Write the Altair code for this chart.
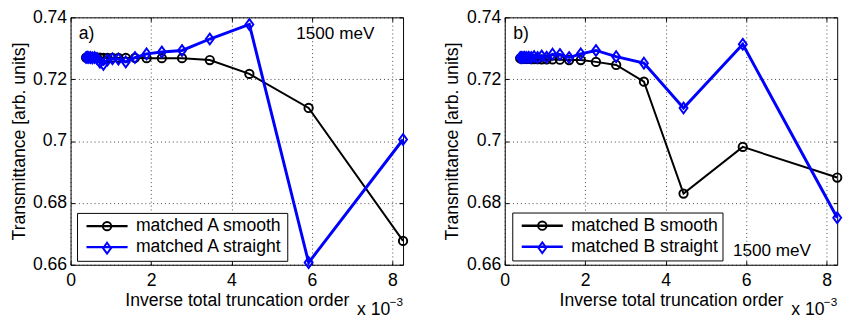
import altair as alt
import pandas as pd

# ---------------- data ----------------
x_vals = [0.000384, 0.000416, 0.000454, 0.000494, 0.000541, 0.000595, 0.000657,
          0.000730, 0.000816, 0.000918, 0.001041, 0.001189, 0.001372, 0.001600,
          0.001890, 0.002268, 0.002770, 0.003460, 0.004444, 0.005917, 0.008264]

a_smooth = [0.7270, 0.7270, 0.7270, 0.7270, 0.7270, 0.7270, 0.7270, 0.7270, 0.7269,
            0.7269, 0.7269, 0.7269, 0.7269, 0.7269, 0.7268, 0.7268, 0.7268, 0.7262,
            0.7217, 0.7107, 0.6677]
a_straight = [0.7270, 0.7271, 0.7270, 0.7270, 0.7269, 0.7270, 0.7267, 0.7255, 0.7248,
              0.7262, 0.7266, 0.7265, 0.7256, 0.7270, 0.7282, 0.7288, 0.7293, 0.7330,
              0.7377, 0.6607, 0.7005]
b_smooth = [0.7267, 0.7267, 0.7266, 0.7266, 0.7266, 0.7266, 0.7265, 0.7265, 0.7265,
            0.7264, 0.7264, 0.7264, 0.7263, 0.7262, 0.7262, 0.7256, 0.7246, 0.7192,
            0.6830, 0.6981, 0.6882]
b_straight = [0.7270, 0.7270, 0.7270, 0.7271, 0.7270, 0.7271, 0.7270, 0.7273, 0.7270,
              0.7275, 0.7271, 0.7281, 0.7280, 0.7270, 0.7282, 0.7293, 0.7273, 0.7252,
              0.7107, 0.7313, 0.6752]

names_a = ["matched A smooth", "matched A straight"]
names_b = ["matched B smooth", "matched B straight"]
series_colors = ["#000000", "#0000ff"]
line_widths = [2, 3]
marker_keys = ["m1", "m2"]

x_tick_values = [0, 0.002, 0.004, 0.006, 0.008]
y_tick_values = [0.66, 0.68, 0.70, 0.72, 0.74]
x_domain = [0, 0.008264]
y_domain = [0.66, 0.74]

panel_tags = ["a)", "b)"]
tag_x = [0.00020, 0.00021]
tag_y = [0.7346, 0.7346]
energy_text = "1500 meV"
energy_x = [0.00755, 0.00761]
energy_y = [0.7346, 0.6643]
x_title = "Inverse total truncation order"
y_title = "Transmittance [arb. units]"

# ---------------- styling ----------------
W, H = 340, 253
YEXT = 39
FONT = "Liberation Sans"
CIRCLE = "M1,0A1,1 0 1,1 -1,0A1,1 0 1,1 1,0Z"
DIAMOND = "M0,-1.3L0.95,0L0,1.3L-0.95,0Z"
LEG_LINE = "M-4.95,0L4.95,0"


def tick_axis(orient, offset, values):
    return alt.Axis(orient=orient, offset=offset, values=values, labels=False,
                    grid=False, domain=False, ticks=True, tickSize=4,
                    tickColor="#000", tickWidth=1, title=None,
                    minExtent=0, maxExtent=0)


def panel(smooth, straight, names, idx, legend_x, legend_y, ytitle_pad):
    n = len(x_vals)
    xs = alt.Scale(domain=x_domain, nice=False, zero=False)
    ys = alt.Scale(domain=y_domain, nice=False, zero=False)

    common = dict(labelFont=FONT, titleFont=FONT, labelFontSize=18, titleFontSize=18,
                  titleFontWeight="normal", labelColor="#000", titleColor="#000")
    x_main = alt.Axis(orient="bottom", values=x_tick_values,
                      labelExpr="format(datum.value*1000, '.0f')", title=x_title,
                      grid=True, gridColor="#000", gridDash=[1, 3], gridOpacity=0.75,
                      ticks=False, domain=False, labelPadding=7, titlePadding=3,
                      labelFlush=False, labelOverlap=False, **common)
    y_main = alt.Axis(orient="left", values=y_tick_values, format=".2~f", title=y_title,
                      grid=True, gridColor="#000", gridDash=[1, 3], gridOpacity=0.75,
                      ticks=False, domain=False, labelPadding=4, titlePadding=ytitle_pad,
                      labelOverlap=False, minExtent=YEXT, maxExtent=YEXT, **common)

    line_legend = alt.Legend(orient="none", legendX=legend_x, legendY=legend_y, title=None,
                             symbolType=LEG_LINE, symbolSize=72, symbolStrokeWidth=2.5,
                             symbolOffset=17.2, labelOffset=20.5, labelFont=FONT,
                             labelFontSize=18, labelColor="#000", padding=4.5,
                             rowPadding=3.5, fillColor="white", strokeColor="#000",
                             cornerRadius=0)
    marker_legend = alt.Legend(orient="none", legendX=legend_x, legendY=legend_y, title=None,
                               symbolSize=72, symbolStrokeWidth=2, symbolOffset=17.2,
                               labelOffset=20.5, labelFont=FONT, labelFontSize=18,
                               labelExpr="''", padding=4.5, rowPadding=3.5, zindex=1)

    color = alt.Color("series:N", scale=alt.Scale(domain=names, range=series_colors),
                      legend=line_legend)
    stroke = alt.Stroke("marker:N", scale=alt.Scale(domain=marker_keys, range=series_colors),
                        legend=marker_legend)
    shape = alt.Shape("marker:N", scale=alt.Scale(domain=marker_keys, range=[CIRCLE, DIAMOND]),
                      legend=marker_legend)

    axes_line = [(x_main, y_main), (tick_axis("bottom", -H, x_tick_values),
                                    tick_axis("left", -W, y_tick_values))]
    axes_pts = [(tick_axis("top", -H, x_tick_values), tick_axis("right", -W, y_tick_values)),
                (None, None)]

    layers = []
    for k, vals in enumerate([smooth, straight]):
        df = pd.DataFrame({"x": x_vals, "y": vals, "series": [names[k]] * n,
                           "marker": [marker_keys[k]] * n})
        ax_l = axes_line[k]
        ax_p = axes_pts[k]
        ln = alt.Chart(df).mark_line(strokeWidth=line_widths[k]).encode(
            x=alt.X("x:Q", scale=xs, axis=ax_l[0]),
            y=alt.Y("y:Q", scale=ys, axis=ax_l[1]),
            color=color,
        )
        pt = alt.Chart(df).mark_point(filled=False, size=72, strokeWidth=2, opacity=1).encode(
            x=alt.X("x:Q", scale=xs, axis=ax_p[0]),
            y=alt.Y("y:Q", scale=ys, axis=ax_p[1]),
            stroke=stroke,
            shape=shape,
        )
        layers += [ln, pt]

    def text_layer(df, align, dx=0, dy=0, size=18):
        return alt.Chart(df).mark_text(align=align, baseline="middle", font=FONT,
                                       fontSize=size, color="#000", dx=dx, dy=dy).encode(
            x=alt.X("x:Q", scale=xs, axis=None),
            y=alt.Y("y:Q", scale=ys, axis=None),
            text="t:N",
        )

    tag_df = pd.DataFrame({"x": [tag_x[idx]], "y": [tag_y[idx]], "t": [panel_tags[idx]]})
    en_df = pd.DataFrame({"x": [energy_x[idx]], "y": [energy_y[idx]], "t": [energy_text]})
    mult_df = pd.DataFrame({"x": [x_domain[1]], "y": [y_domain[0]], "t": ["x 10"]})
    exp_df = pd.DataFrame({"x": [x_domain[1]], "y": [y_domain[0]], "t": ["\u22123"]})

    layers += [
        text_layer(tag_df, "left"),
        text_layer(en_df, "right", size=17.5),
        text_layer(mult_df, "right", dx=-13, dy=46),
        text_layer(exp_df, "right", dy=38, size=12),
    ]

    return alt.layer(*layers).resolve_axis(x="independent", y="independent").properties(
        width=W, height=H)


pA = panel(a_smooth, a_straight, names_a, 0, 6.6, 200, 4)
pB = panel(b_smooth, b_straight, names_b, 1, 7.7, 199.6, 5)

chart = alt.hconcat(pA, pB, spacing=32).resolve_scale(
    color="independent", stroke="independent", shape="independent"
).properties(
    padding={"left": 2, "top": -4, "right": 0, "bottom": 0}
).configure_view(stroke="#000", strokeWidth=1)

chart.save("out.html", embed_options={"renderer": "svg", "actions": False})
